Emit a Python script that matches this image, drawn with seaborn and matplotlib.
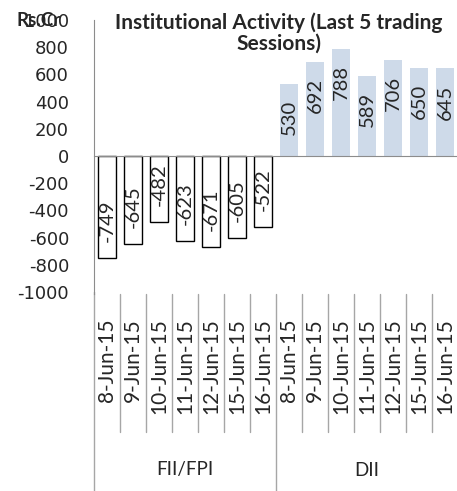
import numpy as np
import pandas as pd
import matplotlib
matplotlib.use("Agg")
import matplotlib.pyplot as plt
import matplotlib.transforms as mtransforms
from matplotlib.lines import Line2D
import seaborn as sns

# data
dates = ['8-Jun-15', '9-Jun-15', '10-Jun-15', '11-Jun-15', '12-Jun-15', '15-Jun-15', '16-Jun-15']
groups = ['FII/FPI', 'DII']
fii_values = [-749, -645, -482, -623, -671, -605, -522]
dii_values = [530, 692, 788, 589, 706, 650, 645]
y_ticks = list(range(-1000, 1001, 200))

df = pd.DataFrame({
    'slot': [f'{g}|{d}' for g in groups for d in dates],
    'group': [g for g in groups for _ in dates],
    'date': dates * 2,
    'value': fii_values + dii_values,
})

sns.set_style('white')
plt.rcParams['font.family'] = ['Lato', 'DejaVu Sans']

W, H = 457, 491
GRAY = '#8c8c8c'
fig = plt.figure(figsize=(W / 100, H / 100), dpi=100)
ax = fig.add_axes([94 / W, 1 - 292 / H, (458 - 94) / W, (292 - 20) / H])

sns.barplot(data=df, x='slot', y='value', hue='group', order=list(df['slot']),
            hue_order=groups, palette={'FII/FPI': 'white', 'DII': '#c9d9ed'},
            dodge=False, width=0.66, errorbar=None, legend=False, ax=ax)

# FII bars: white with black outline, DII bars: no outline
for bar in ax.containers[0]:
    bar.set_edgecolor('black')
    bar.set_linewidth(1.0)
for bar in ax.containers[1]:
    bar.set_edgecolor('none')

# value labels inside the bars
for i, v in enumerate(df['value']):
    if v < 0:
        ax.annotate(str(v), (i, v), xytext=(0, 11.5), textcoords='offset points',
                    rotation=90, ha='center', va='bottom', fontsize=14.5)
    else:
        ax.annotate(str(v), (i, v), xytext=(0, -11.5), textcoords='offset points',
                    rotation=90, ha='center', va='top', fontsize=14.5)

ax.set_ylim(-1000, 1000)
ax.set_xlim(-0.5, len(df) - 0.5)
ax.set_yticks(y_ticks)
ax.set_yticklabels([str(t) for t in y_ticks], family='DejaVu Sans', fontsize=13)
ax.set_xticks(np.arange(-0.5, len(df), 1))
ax.set_xticklabels([])
ax.set_xlabel('')
ax.set_ylabel('')

for s in ['top', 'right']:
    ax.spines[s].set_visible(False)
ax.spines['left'].set_color(GRAY)
ax.spines['bottom'].set_color(GRAY)
ax.spines['bottom'].set_position(('data', 0))
ax.tick_params(axis='y', direction='out', length=6, color=GRAY, pad=12)
ax.tick_params(axis='x', direction='out', length=5, color=GRAY)

# multi-level category axis underneath
trans = mtransforms.blended_transform_factory(ax.transData, fig.transFigure)
def fy(px):
    return 1 - px / H

for i, d in enumerate(df['date']):
    ax.text(i, fy(318), d, transform=trans, rotation=90, ha='center', va='top',
            fontsize=15, clip_on=False)

for k in range(len(df) + 1):
    x = k - 0.5
    bottom = 491 if k % len(dates) == 0 else 432
    ax.add_line(Line2D([x, x], [fy(294), fy(bottom)], transform=trans,
                       color='#a6a6a6', lw=1, clip_on=False))
ax.add_line(Line2D([-0.5, -0.5], [fy(292), fy(294)], transform=trans,
                   color=GRAY, lw=1, clip_on=False))

n = len(dates)
for j, g in enumerate(groups):
    ax.text(j * n + (n - 1) / 2, fy(470), g, transform=trans, ha='center', va='center',
            fontsize=13.5)

fig.text(279 / W, fy(33), 'Institutional Activity (Last 5 trading\nSessions)',
         ha='center', va='center', fontsize=15, fontweight='bold', linespacing=1.0)
fig.text(16 / W, fy(21), 'Rs.Cr', ha='left', va='center', fontsize=13.5, fontweight='bold')

fig.savefig('out.png', dpi=100)
